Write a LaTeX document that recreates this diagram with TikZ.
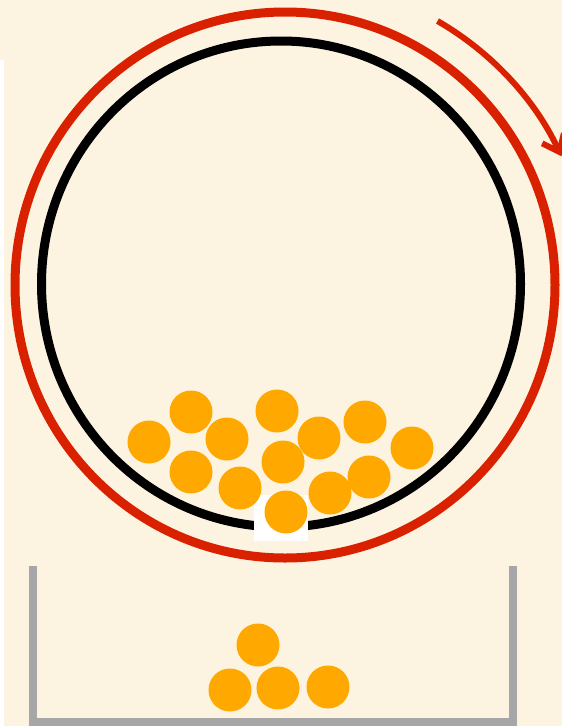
\documentclass[tikz,border=0pt]{standalone}
\usetikzlibrary{arrows.meta}
\definecolor{bg}{HTML}{FDF3E1}
\definecolor{ringred}{HTML}{D92100}
\definecolor{ball}{HTML}{FFA800}
\definecolor{tray}{HTML}{A6A6A6}
\tikzset{
  ballstyle/.style={fill=ball},
  ringstyle/.style={line width=9pt},
}
\begin{document}
\begin{tikzpicture}[x=1pt,y=-1pt]
\useasboundingbox (0,0) rectangle (562,726);
\fill[bg] (0,0) rectangle (562,726);
\fill[white] (0,60) rectangle (4,726);
% drum
\draw[ringstyle,ringred] (285,285) ellipse [x radius=270pt, y radius=273pt];
\draw[ringstyle,black] (281,284) ellipse [x radius=239.5pt, y radius=243pt];
% rotation arrow
\coordinate (arrowstart) at (437.5,21);
\draw[ringred,line width=6pt,-{Straight Barb[length=15pt,width=24pt]}] (arrowstart) arc[start angle=60,end angle=25,radius=305pt];
% opening
\fill[white] (254,495) rectangle (308,541);
% balls in drum
\foreach \x/\y in {149/442,191/412,227/439,191/472,240/488,277/411,283/462,286/512,319/438,330/493,365/422,369/477,412/448}
  \fill[ballstyle] (\x,\y) circle[radius=21.5pt];
% tray
\draw[tray,line width=8pt,line join=miter] (33,566) -- (33,722) -- (513,722) -- (513,566);
\foreach \x/\y in {258/645,230/690,278/688,328/687}
  \fill[ballstyle] (\x,\y) circle[radius=21.5pt];
\end{tikzpicture}
\end{document}
